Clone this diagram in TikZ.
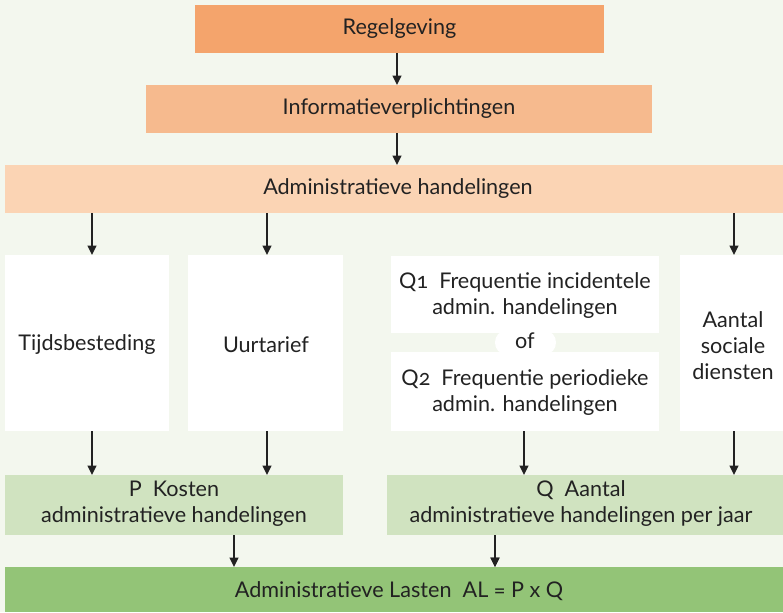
\documentclass[tikz,border=0pt]{standalone}
\usepackage{fontspec}
\setmainfont[Numbers=OldStyle]{Lato}
\usetikzlibrary{arrows.meta}
\definecolor{bg}{HTML}{F3F7EE}
\definecolor{c1}{HTML}{F4A46C}
\definecolor{c2}{HTML}{F6BA8E}
\definecolor{c3}{HTML}{FBD4B4}
\definecolor{g1}{HTML}{D0E3C0}
\definecolor{g2}{HTML}{93C477}
\definecolor{txt}{HTML}{222222}
\tikzset{
  box/.style={inner sep=0pt, text=txt, font=\fontsize{16.2}{19.5}\selectfont, align=center},
  arr/.style={draw=txt, line width=1.4pt, -{Triangle[length=7pt,width=6.5pt]}},
}
\begin{document}
\begin{tikzpicture}[x=0.75pt,y=-0.75pt]
\fill[bg] (0,0) rectangle (783,612);
\useasboundingbox (0,0) rectangle (783,612);
% boxes
\fill[c1] (195,5) rectangle (604,53);
\node[box] (reg) at (399.5,29) {Regelgeving};
\fill[c2] (146,85) rectangle (652,133);
\node[box] (inf) at (399,109) {Informatieverplichtingen};
\fill[c3] (5,165) rectangle (783,213);
\node[box] (adm) at (398,189) {Administratieve handelingen};
\fill[white] (5,255) rectangle (169,431);
\node[box] (tij) at (87,345) {Tijdsbesteding};
\fill[white] (188,255) rectangle (343,431);
\node[box] (uur) at (266,345) {Uurtarief};
\fill[white] (391,256) rectangle (659,333);
\node[box] (q1) at (525,296) {Q1\ \ Frequentie incidentele\\admin. handelingen};
\fill[white] (391,352) rectangle (659,431);
\fill[white] (505,331) rectangle (546,354);
\fill[white] (505,342.5) ellipse [x radius=10, y radius=11.5];
\fill[white] (546,342.5) ellipse [x radius=10, y radius=11.5];
\node[box] (of) at (525,341) {of};
\node[box] (q2) at (525,393) {Q2\ \ Frequentie periodieke\\admin. handelingen};
\fill[white] (680,255) rectangle (783,431);
\node[box] (aan) at (733,346) {Aantal\\sociale\\diensten};
\fill[g1] (5,475) rectangle (343,535);
\node[box] (p) at (174,504) {P\ \ Kosten\\administratieve handelingen};
\fill[g1] (387,475) rectangle (783,535);
\node[box] (q) at (581,504) {Q\ \ Aantal\\administratieve handelingen per jaar};
\fill[g2] (5,567) rectangle (783,612);
\node[box] (al) at (399,591) {Administratieve Lasten\ \ AL = P x Q};
% anchors
\coordinate (a1) at (397,53); \coordinate (b1) at (397,85);
\coordinate (a2) at (397,133); \coordinate (b2) at (397,165);
\foreach \x/\n in {92/t,267/u,524/q,734/a}{
  \coordinate (s\n) at (\x,213); \coordinate (e\n) at (\x,255);
  \coordinate (s2\n) at (\x,431); \coordinate (e2\n) at (\x,475);
}
\coordinate (sp) at (234,535); \coordinate (ep) at (234,567);
\coordinate (sq) at (495,535); \coordinate (eq) at (495,567);
\draw[arr] (a1) -- (b1);
\draw[arr] (a2) -- (b2);
\foreach \n in {t,u,q,a}{
  \draw[arr] (s\n) -- (e\n);
  \draw[arr] (s2\n) -- (e2\n);
}
\draw[arr] (sp) -- (ep);
\draw[arr] (sq) -- (eq);
\end{tikzpicture}
\end{document}
